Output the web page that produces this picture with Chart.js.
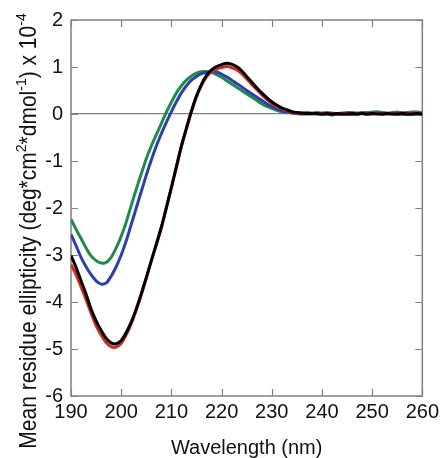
<!DOCTYPE html>
<html lang="en">
<head>
<meta charset="UTF-8">
<title>CD spectra</title>
<script src="https://cdn.jsdelivr.net/npm/chart.js@4.4.1/dist/chart.umd.min.js"></script>
<style>
  html, body { margin: 0; padding: 0; background: #fff; }
  #wrap { width: 443px; height: 458px; }
</style>
</head>
<body>
<div id="wrap"><canvas id="cdChart"></canvas></div>
<script>
// wavelength in nm, ellipticity in units of 10^4 deg*cm2*dmol-1
const wavelength = [190,191,192,193,194,195,196,197,198,199,200,201,202,203,204,205,206,207,208,209,
  210,211,212,213,214,215,216,217,218,219,220,221,222,223,224,225,226,227,228,229,
  230,231,232,233,234,235,236,237,238,239,240,241,242,243,244,245,246,247,248,249,
  250,251,252,253,254,255,256,257,258,259,260];

const blackSeries = [-3.01,-3.26,-3.55,-3.83,-4.15,-4.40,-4.60,-4.77,-4.87,-4.89,
  -4.82,-4.65,-4.43,-4.15,-3.83,-3.48,-3.12,-2.77,-2.41,-1.99,
  -1.56,-1.12,-0.68,-0.30,0.06,0.38,0.63,0.82,0.94,1.01,
  1.05,1.08,1.06,1.01,0.92,0.80,0.68,0.56,0.45,0.35,
  0.26,0.19,0.13,0.09,0.05,0.03,0.02,
  0.01,0.01,0.01,0.00,0.01,0.00,0.01,0.00,0.00,0.01,0.00,0.01,0.00,0.01,0.00,0.00,0.01,0.00,0.00,0.01,0.00,0.00,0.01,0.00];

const redSeries = [-3.20,-3.42,-3.68,-3.95,-4.24,-4.50,-4.70,-4.86,-4.95,-4.96,
  -4.88,-4.70,-4.46,-4.17,-3.84,-3.49,-3.13,-2.78,-2.42,-2.00,
  -1.57,-1.13,-0.69,-0.31,0.06,0.37,0.61,0.79,0.90,0.96,
  0.99,1.01,0.99,0.94,0.86,0.75,0.63,0.52,0.41,0.31,
  0.23,0.16,0.11,0.07,0.04,0.02,0.01,
  0.01,0.00,0.01,0.00,0.00,0.01,0.00,0.00,0.01,0.00,0.00,0.01,0.00,0.00,0.01,0.00,0.01,0.00,0.00,0.00,0.01,0.00,0.00,0.01];

const blueSeries = [-2.56,-2.80,-3.05,-3.25,-3.42,-3.55,-3.62,-3.60,-3.45,-3.25,
  -3.00,-2.70,-2.35,-2.00,-1.65,-1.30,-0.98,-0.68,-0.42,-0.18,
  0.05,0.26,0.45,0.60,0.72,0.80,0.86,0.89,0.91,0.90,
  0.85,0.79,0.72,0.65,0.58,0.50,0.43,0.36,0.29,0.22,
  0.16,0.11,0.07,0.04,0.02,0.01,0.00,
  0.00,0.01,0.00,-0.01,0.00,-0.02,-0.01,0.00,0.00,-0.01,0.00,0.01,0.00,0.01,0.02,0.00,0.00,0.01,0.00,0.00,-0.01,0.00,0.00,-0.01];

const greenSeries = [-2.24,-2.45,-2.65,-2.85,-3.02,-3.12,-3.17,-3.16,-3.05,-2.85,
  -2.60,-2.30,-1.95,-1.60,-1.27,-0.95,-0.68,-0.44,-0.20,0.04,
  0.25,0.45,0.60,0.72,0.81,0.87,0.90,0.90,0.88,0.84,
  0.78,0.71,0.64,0.57,0.50,0.43,0.36,0.29,0.22,0.16,
  0.12,0.08,0.05,0.04,0.03,0.03,0.02,
  0.03,0.02,0.03,0.02,0.03,0.02,0.01,0.02,0.03,0.03,0.02,0.03,0.03,0.04,0.05,0.03,0.02,0.03,0.04,0.03,0.03,0.04,0.04,0.03];

const xTicks = [190, 200, 210, 220, 230, 240, 250, 260];
const yTicks = [-6, -5, -4, -3, -2, -1, 0, 1, 2];

const FONT = "'Liberation Sans', Arial, sans-serif";
const FRAME = '#808080';
const INK = '#111111';

function pairs(ys) {
  return wavelength.map((w, i) => ({ x: w, y: ys[i] }));
}

// box around the plot, inward ticks on all four sides, rotated y title with superscripts
const framePlugin = {
  id: 'framePlugin',
  beforeDatasetsDraw(chart) {
    const { ctx, chartArea: a, scales: { x, y } } = chart;
    ctx.save();
    ctx.strokeStyle = FRAME;
    ctx.lineWidth = 1.5;
    ctx.strokeRect(a.left, a.top, a.right - a.left, a.bottom - a.top);
    ctx.lineWidth = 1.2;
    ctx.beginPath();
    xTicks.forEach(v => {
      const px = Math.round(x.getPixelForValue(v)) + 0.5;
      ctx.moveTo(px, a.bottom); ctx.lineTo(px, a.bottom - 7);
      ctx.moveTo(px, a.top); ctx.lineTo(px, a.top + 7);
    });
    yTicks.forEach(v => {
      const py = Math.round(y.getPixelForValue(v)) + 0.5;
      ctx.moveTo(a.left, py); ctx.lineTo(a.left + 7, py);
      ctx.moveTo(a.right, py); ctx.lineTo(a.right - 7, py);
    });
    ctx.stroke();
    ctx.restore();
  },
  afterDraw(chart) {
    const { ctx } = chart;
    const parts = [
      ['Mean residue ellipticity (deg*cm', false],
      ['2', true],
      ['*dmol', false],
      ['-1', true],
      [') x 10', false],
      ['-4', true]
    ];
    const mainFont = '21px ' + FONT;
    const supFont = '14px ' + FONT;
    ctx.save();
    let total = 0;
    parts.forEach(([t, sup]) => {
      ctx.font = sup ? supFont : mainFont;
      total += ctx.measureText(t).width;
    });
    ctx.translate(36, 231);
    ctx.scale(1.1, 1);
    ctx.rotate(-Math.PI / 2);
    ctx.fillStyle = INK;
    ctx.textBaseline = 'alphabetic';
    ctx.textAlign = 'left';
    let cx = -total / 2;
    parts.forEach(([t, sup]) => {
      ctx.font = sup ? supFont : mainFont;
      ctx.fillText(t, cx, sup ? -9 : 0);
      cx += ctx.measureText(t).width;
    });
    ctx.restore();
  }
};

const lineStyle = {
  pointRadius: 0,
  borderWidth: 3,
  tension: 0.2,
  fill: false
};

new Chart(document.getElementById('cdChart'), {
  type: 'line',
  data: {
    datasets: [
      { label: 'black', data: pairs(blackSeries), borderColor: '#000000', ...lineStyle },
      { label: 'red', data: pairs(redSeries), borderColor: '#d42a22', ...lineStyle },
      { label: 'blue', data: pairs(blueSeries), borderColor: '#2c3fae', ...lineStyle },
      { label: 'green', data: pairs(greenSeries), borderColor: '#1f8a4a', ...lineStyle }
    ]
  },
  options: {
    responsive: true,
    maintainAspectRatio: false,
    animation: false,
    layout: { padding: { top: 19, right: 19, left: 0, bottom: 0 } },
    plugins: {
      legend: { display: false },
      tooltip: { enabled: false }
    },
    scales: {
      x: {
        type: 'linear',
        min: 190,
        max: 260,
        afterBuildTicks: s => { s.ticks = xTicks.map(v => ({ value: v })); },
        afterFit: s => { s.height = 62; },
        grid: { display: false, drawTicks: false },
        border: { display: false },
        ticks: { padding: 4, color: INK, font: { family: FONT, size: 20 } },
        title: {
          display: true,
          text: 'Wavelength (nm)',
          color: INK,
          font: { family: FONT, size: 20 },
          padding: { top: 0, bottom: -2 }
        }
      },
      y: {
        min: -6,
        max: 2,
        afterBuildTicks: s => { s.ticks = yTicks.map(v => ({ value: v })); },
        afterFit: s => { s.width = 71; },
        grid: {
          drawTicks: false,
          color: c => (c.tick && c.tick.value === 0 ? FRAME : 'rgba(0,0,0,0)'),
          lineWidth: 1.2
        },
        border: { display: false },
        ticks: { padding: 8, color: INK, font: { family: FONT, size: 20 } }
      }
    }
  },
  plugins: [framePlugin]
});
</script>
</body>
</html>
